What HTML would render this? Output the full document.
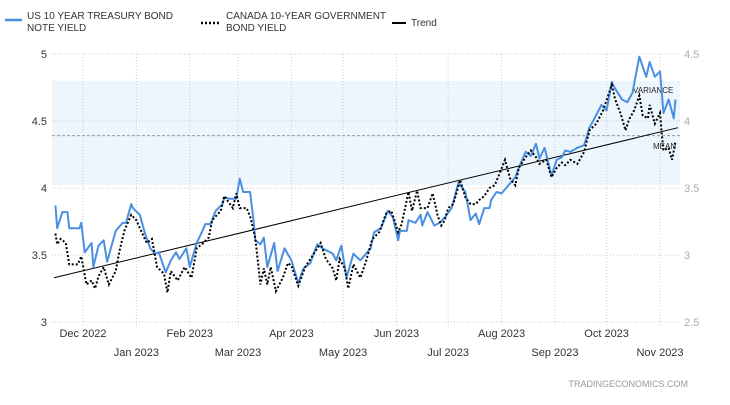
<!DOCTYPE html>
<html><head><meta charset="utf-8"><style>
body{margin:0;background:#fff;font-family:"Liberation Sans",sans-serif;}
svg text{font-family:"Liberation Sans",sans-serif;}
</style></head><body>
<svg id="chart" width="730" height="400" viewBox="0 0 730 400" xmlns="http://www.w3.org/2000/svg">
<g>
 <line x1="5" y1="20" x2="22" y2="20" stroke="#4a90e2" stroke-width="2.5"/>
 <text x="27" y="19" font-size="10" fill="#333">US 10 YEAR TREASURY BOND</text>
 <text x="27" y="31" font-size="10" fill="#333">NOTE YIELD</text>
 <line x1="201" y1="23" x2="220" y2="23" stroke="#000" stroke-width="2.5" stroke-dasharray="2,2"/>
 <text x="226" y="19" font-size="10" fill="#333">CANADA 10-YEAR GOVERNMENT</text>
 <text x="226" y="31" font-size="10" fill="#333">BOND YIELD</text>
 <line x1="392" y1="23" x2="406" y2="23" stroke="#000" stroke-width="2"/>
 <text x="411" y="26" font-size="10" fill="#333">Trend</text>
</g>
<g id="plot"></g>
<text x="688" y="387" font-size="9" fill="#999" text-anchor="end">TRADINGECONOMICS.COM</text>
</svg>
<script>
const leftTicks=[3,3.5,4,4.5,5];
const rightTicks=["2.5","3","3.5","4","4.5"];
const monthLabels=["Dec 2022","Jan 2023","Feb 2023","Mar 2023","Apr 2023","May 2023","Jun 2023","Jul 2023","Aug 2023","Sep 2023","Oct 2023","Nov 2023"];
const monthDays=[0,31,62,90,121,151,182,212,243,274,304,335];
const usDays=[-16,-15,-12,-9,-8,-2,-1,1,5,6,9,12,14,19,23,25,28,29,33,36,39,42,44,48,51,54,56,59,60,62,66,69,71,74,77,81,82,85,89,91,93,97,99,100,103,105,107,111,113,117,121,125,128,132,136,139,142,145,147,150,153,157,161,167,169,173,177,180,183,184,188,189,193,196,197,200,204,207,210,214,218,222,225,228,230,233,236,237,240,243,251,253,257,260,263,265,268,272,275,278,280,283,287,291,294,297,301,304,307,309,313,316,319,323,327,329,332,335,337,340,343,344];
const usVals=[3.87,3.70,3.82,3.82,3.70,3.70,3.74,3.52,3.59,3.41,3.57,3.61,3.45,3.68,3.74,3.74,3.88,3.85,3.80,3.66,3.55,3.51,3.52,3.37,3.46,3.52,3.47,3.53,3.55,3.41,3.59,3.67,3.73,3.73,3.83,3.88,3.93,3.92,3.92,4.07,3.97,3.97,3.76,3.61,3.58,3.63,3.41,3.59,3.38,3.55,3.46,3.29,3.40,3.44,3.58,3.55,3.53,3.51,3.46,3.57,3.33,3.51,3.46,3.55,3.67,3.70,3.83,3.78,3.61,3.68,3.68,3.76,3.74,3.80,3.72,3.82,3.72,3.74,3.78,3.85,4.04,3.97,3.76,3.81,3.73,3.85,3.85,3.91,3.97,3.96,4.08,4.15,4.27,4.24,4.33,4.22,4.30,4.09,4.21,4.23,4.28,4.27,4.30,4.32,4.45,4.52,4.62,4.58,4.79,4.74,4.66,4.64,4.71,4.98,4.83,4.94,4.83,4.87,4.56,4.66,4.52,4.66];
const caDays=[-16,-15,-13,-10,-8,-3,-1,2,5,7,9,12,15,19,21,24,28,31,33,37,40,43,47,49,51,55,59,63,66,70,73,75,80,82,87,89,91,95,97,100,103,105,107,109,112,116,119,121,125,129,134,138,141,145,147,149,152,154,157,161,164,168,172,176,179,183,185,189,191,194,196,200,203,206,208,210,212,215,219,222,225,228,230,233,236,239,241,245,248,251,253,257,260,263,265,269,272,275,278,280,283,287,291,294,298,302,307,309,312,315,317,320,323,325,328,329,332,335,336,337,340,342,344];
const caVals=[3.16,3.08,3.12,3.09,2.93,2.93,2.99,2.78,2.81,2.75,2.84,2.91,2.78,2.88,3.02,3.18,3.30,3.26,3.20,3.09,3.12,2.91,2.86,2.72,2.88,2.81,2.91,2.83,3.05,3.09,3.13,3.26,3.33,3.44,3.35,3.46,3.35,3.35,3.29,3.13,2.78,2.90,2.78,2.91,2.73,2.83,2.94,2.92,2.77,2.91,3.01,3.09,2.97,2.90,2.81,2.97,2.90,2.75,2.93,2.83,2.94,3.12,3.17,3.31,3.33,3.17,3.23,3.47,3.33,3.48,3.35,3.35,3.46,3.29,3.22,3.26,3.35,3.38,3.56,3.43,3.38,3.38,3.41,3.44,3.50,3.52,3.58,3.71,3.57,3.52,3.65,3.73,3.78,3.73,3.68,3.71,3.58,3.65,3.69,3.67,3.71,3.68,3.77,3.93,3.98,4.08,4.27,4.16,4.06,3.93,4.01,4.08,4.19,4.04,4.02,4.12,3.98,4.06,3.91,3.78,3.80,3.71,3.85];
const trendStart=3.33, trendEnd=4.45, meanVal=4.39, bandTop=4.80, bandBottom=4.02;

const NS="http://www.w3.org/2000/svg";
const X0=52,X1=680,Y0=54,Y1=322;
const x=d=>83+d*(577/335);
const yL=v=>Y1-(v-3)*(Y1-Y0)/2;
const yR=v=>Y1-(v-2.5)*(Y1-Y0)/2;
const plot=document.getElementById('plot');
function mk(tag,attrs,parent){const e=document.createElementNS(NS,tag);for(const k in attrs)e.setAttribute(k,attrs[k]);(parent||plot).appendChild(e);return e;}

const band=mk('rect',{x:X0,y:yL(bandTop),width:X1-X0,height:yL(bandBottom)-yL(bandTop),fill:'#eef6fd'});



leftTicks.forEach((t,i)=>{
 const g=mk('line',{x1:X0,x2:X1,y1:yL(t),y2:yL(t),stroke:'#ccc','stroke-dasharray':'1,2'});
 
 
 const l=mk('text',{x:47,y:yL(t)+4,'font-size':11,fill:'#333','text-anchor':'end'});l.textContent=t;
 
 
 const r=mk('text',{x:684,y:yL(t)+4,'font-size':11,fill:'#aaa'});r.textContent=rightTicks[i];
 
 
});
monthDays.forEach((d,i)=>{
 const g=mk('line',{x1:x(d),x2:x(d),y1:Y0,y2:Y1+4,stroke:'#ccc','stroke-dasharray':'1,2'});
 
 
 const t=mk('text',{x:x(d),y:i%2?356:337,'font-size':11,fill:'#333','text-anchor':'middle'});t.textContent=monthLabels[i];
 
 
});
const mean=mk('line',{x1:X0,x2:X1,y1:yL(meanVal),y2:yL(meanVal),stroke:'#777','stroke-dasharray':'3,2','stroke-width':0.8});


const vt=mk('text',{x:633,y:93,'font-size':8,fill:'#222'});vt.textContent='VARIANCE';


const mt=mk('text',{x:653,y:149,'font-size':8,fill:'#222'});mt.textContent='MEAN';



const tr=mk('line',{x1:54,x2:678,y1:yL(trendStart),y2:yL(trendEnd),stroke:'#000','stroke-width':1});



const us=mk('polyline',{points:usDays.map((d,i)=>x(d)+','+yL(usVals[i])).join(' '),fill:'none',stroke:'#4a90e2','stroke-width':2,'stroke-linejoin':'round'});


const ca=mk('polyline',{points:caDays.map((d,i)=>x(d)+','+yR(caVals[i])).join(' '),fill:'none',stroke:'#000','stroke-width':2,'stroke-dasharray':'2,2'});


</script>
</body></html>
